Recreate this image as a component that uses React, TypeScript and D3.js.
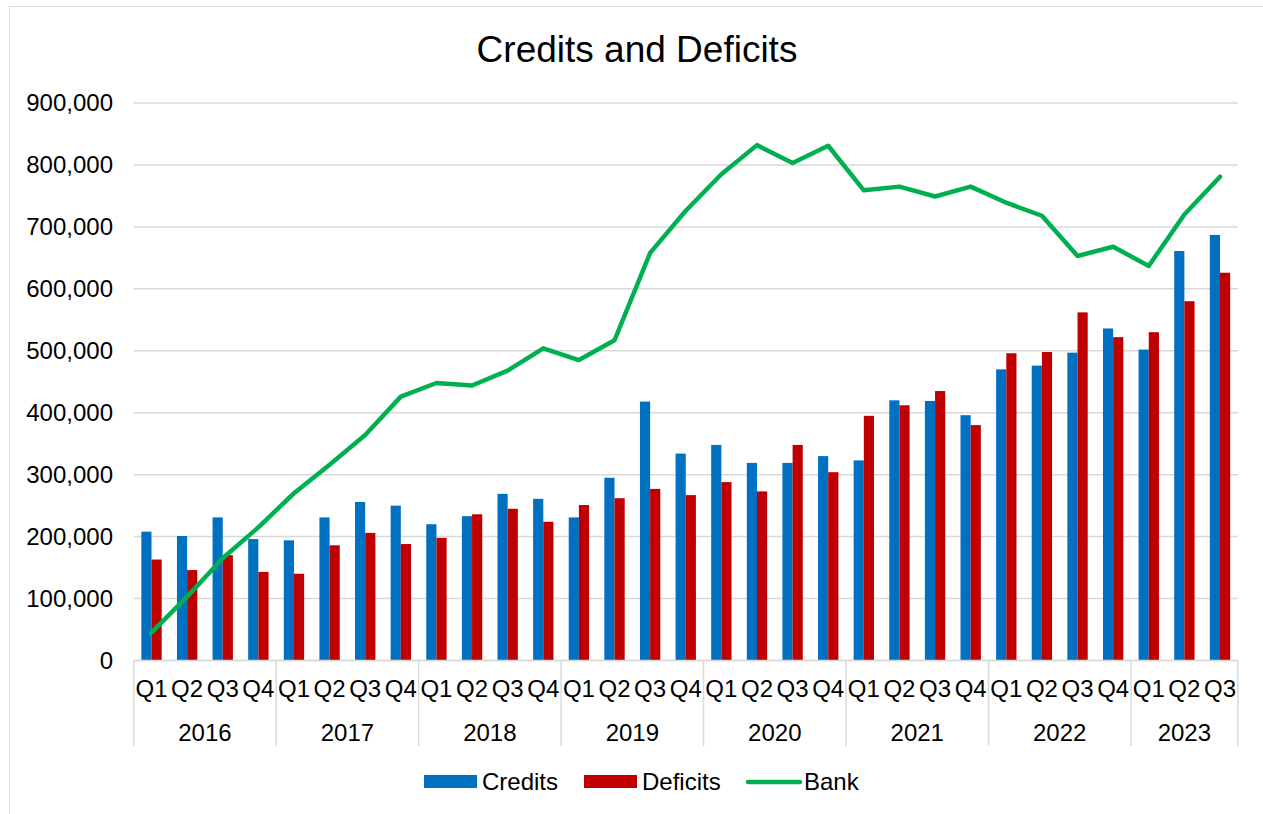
import * as d3 from "d3";

const years = ["2016", "2017", "2018", "2019", "2020", "2021", "2022", "2023"];
const quartersPerYear = [4, 4, 4, 4, 4, 4, 4, 3];

const credits = [
  208000, 201000, 231000, 196000, 194000, 231000, 256000, 250000, 220000, 233000, 269000,
  261000, 231000, 295000, 418000, 334000, 348000, 319000, 319000, 330000, 323000, 420000,
  419000, 396000, 470000, 476000, 497000, 536000, 502000, 661000, 687000,
];
const deficits = [
  163000, 146000, 170000, 143000, 140000, 186000, 206000, 188000, 198000, 236000, 245000,
  224000, 251000, 262000, 277000, 267000, 288000, 273000, 348000, 304000, 395000, 412000,
  435000, 380000, 496000, 498000, 562000, 522000, 530000, 580000, 626000,
];
const bank = [
  45000, 103000, 165000, 215000, 270000, 316000, 364000, 426000, 448000, 444000, 468000,
  504000, 485000, 517000, 658000, 726000, 785000, 832000, 803000, 831000, 759000, 765000,
  749000, 765000, 739000, 718000, 653000, 668000, 637000, 720000, 781000,
];
const yTicks = [0, 100000, 200000, 300000, 400000, 500000, 600000, 700000, 800000, 900000];

const series = ["Credits", "Deficits"];
const colors: Record<string, string> = {
  Credits: "#0070C0",
  Deficits: "#C00000",
  Bank: "#00B050",
};

const font = "'Liberation Sans', Arial, sans-serif";

export default function App() {
  const width = 1263;
  const height = 814;
  const left = 133.7;
  const right = 1237.8;
  const top = 103;
  const bottom = 660.5;

  // flat list of quarter periods
  const periods = years.flatMap((yr, i) =>
    d3.range(quartersPerYear[i]).map((q) => ({ year: yr, q: `Q${q + 1}`, key: `${yr}-Q${q + 1}` })),
  );

  const x = d3
    .scaleBand<string>()
    .domain(periods.map((p) => p.key))
    .range([left, right])
    .padding(0);
  const bw = x.bandwidth();
  const groupW = (bw * 2) / 3.5;
  const sub = d3
    .scaleBand<string>()
    .domain(series)
    .range([bw / 2 - groupW / 2, bw / 2 + groupW / 2]);

  const y = d3.scaleLinear().domain([0, 900000]).range([bottom, top]);
  const fmt = d3.format(",");

  const line = d3
    .line<number>()
    .x((_, i) => (x(periods[i].key) ?? 0) + bw / 2)
    .y((d) => y(d));

  // year group boundaries
  let acc = 0;
  const yearSpans = years.map((yr, i) => {
    const start = acc;
    acc += quartersPerYear[i];
    return { yr, x0: x(periods[start].key) ?? 0, x1: (x(periods[acc - 1].key) ?? 0) + bw };
  });

  return (
    <svg
      width={width}
      height={height}
      style={{ position: "absolute", left: 0, top: 0, background: "#fff" }}
      fontFamily={font}
    >
      <rect x={9.5} y={6.5} width={1262} height={810} fill="#fff" stroke="#d9d9d9" />
      <text x={637} y={62} textAnchor="middle" fontSize={37} fill="#000">
        Credits and Deficits
      </text>

      {yTicks.map((t) => (
        <g key={t}>
          <line x1={left} x2={right} y1={y(t)} y2={y(t)} stroke="#d9d9d9" strokeWidth={1.5} />
          <text x={113} y={y(t)} dy="0.35em" textAnchor="end" fontSize={24} fill="#000">
            {fmt(t)}
          </text>
        </g>
      ))}

      {periods.map((p, i) => (
        <g key={p.key} transform={`translate(${x(p.key)},0)`}>
          {series.map((s) => {
            const v = s === "Credits" ? credits[i] : deficits[i];
            return (
              <rect
                key={s}
                x={sub(s)}
                y={y(v)}
                width={sub.bandwidth()}
                height={bottom - y(v)}
                fill={colors[s]}
              />
            );
          })}
          <text x={bw / 2} y={689} dy="0.35em" textAnchor="middle" fontSize={24} fill="#000">
            {p.q}
          </text>
        </g>
      ))}

      <line x1={left} x2={right} y1={bottom} y2={bottom} stroke="#d9d9d9" strokeWidth={1.5} />
      {yearSpans.map((s) => (
        <g key={s.yr}>
          <line x1={s.x0} x2={s.x0} y1={bottom} y2={746} stroke="#d9d9d9" strokeWidth={1.5} />
          <text x={(s.x0 + s.x1) / 2} y={733} dy="0.35em" textAnchor="middle" fontSize={24} fill="#000">
            {s.yr}
          </text>
        </g>
      ))}
      <line x1={right} x2={right} y1={bottom} y2={746} stroke="#d9d9d9" strokeWidth={1.5} />

      <path
        d={line(bank) ?? ""}
        fill="none"
        stroke={colors.Bank}
        strokeWidth={4.5}
        strokeLinejoin="round"
        strokeLinecap="round"
      />

      <g fontSize={24} fill="#000">
        <rect x={424} y={775} width={53} height={13} fill={colors.Credits} />
        <text x={482} y={782} dy="0.35em">Credits</text>
        <rect x={584} y={775} width={53} height={13} fill={colors.Deficits} />
        <text x={642} y={782} dy="0.35em">Deficits</text>
        <line x1={748} x2={800} y1={782} y2={782} stroke={colors.Bank} strokeWidth={4.5} strokeLinecap="round" />
        <text x={804} y={782} dy="0.35em">Bank</text>
      </g>
    </svg>
  );
}
